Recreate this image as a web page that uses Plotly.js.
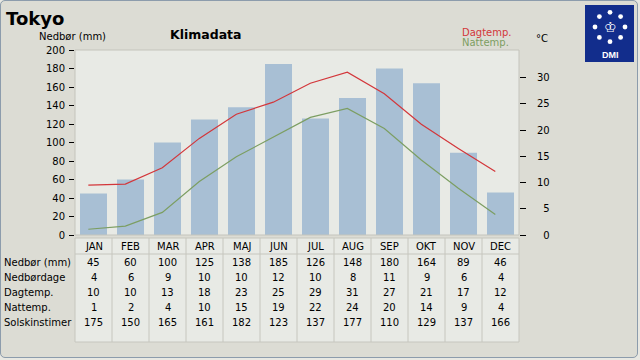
<!DOCTYPE html>
<html><head><meta charset="utf-8">
<script src="https://cdn.plot.ly/plotly-3.0.1.min.js"></script>
<style>
html,body{margin:0;padding:0;background:#e8e8e2;}
#wrap{position:relative;width:640px;height:360px;overflow:hidden;}
#chart{position:absolute;left:0;top:0;width:640px;height:360px;}
#frame{position:absolute;left:0;top:0;width:636px;height:356px;border:1px solid #8c9cac;border-radius:5px;box-shadow:0 0 0 6px #e8e8e2;pointer-events:none;}
</style></head>
<body><div id="wrap"><div id="chart"></div><div id="frame"></div></div>
<script>
const months = ['JAN','FEB','MAR','APR','MAJ','JUN','JUL','AUG','SEP','OKT','NOV','DEC'];
const precip = [45,60,100,125,138,185,126,148,180,164,89,46];
const rainDays = [4,6,9,10,10,12,10,8,11,9,6,4];
const dayTemp = [10,10,13,18,23,25,29,31,27,21,17,12];
const nightTemp = [1,2,4,10,15,19,22,24,20,14,9,4];
const sunHours = [175,150,165,161,182,123,137,177,110,129,137,166];
const dayTempLine = [9.5,9.7,12.8,18.4,23,25.3,28.9,31,26.9,21.1,16.5,12.1];
const nightTempLine = [1.1,1.7,4.3,10.2,14.9,18.7,22.4,24.1,20.3,14.3,8.9,3.9];
const rowLabels = ['Nedbør (mm)','Nedbørdage','Dagtemp.','Nattemp.','Solskinstimer'];
const leftTicks = [0,20,40,60,80,100,120,140,160,180,200];
const rightTicks = [0,5,10,15,20,25,30];

const W=640,H=360,L=75,R=519,T=50,B=235;
const FONT='DejaVu Sans, Verdana, sans-serif';
const px=x=>(x-L)/(R-L);
const py=y=>(B-y)/(B-T);
const FS='\u2007';

const traces=[
 {type:'bar',x:months,y:precip,marker:{color:'#a8bfd4'},width:0.73,xaxis:'x',yaxis:'y',hoverinfo:'skip'},
 {type:'scatter',mode:'lines',x:months,y:dayTempLine,line:{color:'#d3363a',width:1.2},xaxis:'x2',yaxis:'y2',hoverinfo:'skip'},
 {type:'scatter',mode:'lines',x:months,y:nightTempLine,line:{color:'#7c9e62',width:1.2},xaxis:'x2',yaxis:'y2',hoverinfo:'skip'}
];

const ann=[];
const shapes=[];
function txt(text,x,y,opt){ann.push(Object.assign({text:text,x:x,y:y,xref:'paper',yref:'paper',showarrow:false,xanchor:'left',yanchor:'middle',font:{family:FONT,size:10,color:'#000'}},opt||{}));}

txt('Tokyo',px(4),py(18),{font:{family:FONT,size:18,color:'#000',weight:'bold'}});
txt('Klimadata',px(205.5),py(35),{xanchor:'center',font:{family:FONT,size:12.5,color:'#000',weight:'bold'}});
txt('Nedbør (mm)',px(108),py(36),{xanchor:'right'});
txt('Dagtemp.',px(460),py(32),{font:{family:FONT,size:10,color:'#d3363a'}});
txt('Nattemp.',px(460),py(42),{font:{family:FONT,size:10,color:'#7c9e62'}});
txt('°C',px(534),py(38));

// table
const tTop=238,tHead=254,tBot=342;
shapes.push({type:'rect',xref:'paper',yref:'paper',x0:0,x1:1,y0:py(tTop),y1:py(tBot),fillcolor:'#e8eae5',line:{color:'#c6c6be',width:1}});
shapes.push({type:'line',xref:'paper',yref:'paper',x0:0,x1:1,y0:py(tHead),y1:py(tHead),line:{color:'#c6c6be',width:1}});
for(let i=1;i<months.length;i++){
 shapes.push({type:'line',xref:'paper',yref:'paper',x0:i/months.length,x1:i/months.length,y0:py(tTop),y1:py(tBot),line:{color:'#c6c6be',width:1}});
}
const rows=[precip,rainDays,dayTemp,nightTemp,sunHours];
months.forEach((m,i)=>{
 ann.push({text:m,x:m,xref:'x',y:py(246),yref:'paper',showarrow:false,xanchor:'center',yanchor:'middle',font:{family:FONT,size:10,color:'#000'}});
 rows.forEach((r,k)=>{
  ann.push({text:String(r[i]),x:m,xref:'x',y:py(262+15*k),yref:'paper',showarrow:false,xanchor:'center',yanchor:'middle',font:{family:FONT,size:10,color:'#000'}});
 });
});
rowLabels.forEach((lab,k)=>txt(lab,px(2),py(262+15*k)));

// plot border
shapes.push({type:'rect',xref:'paper',yref:'paper',x0:0,x1:1,y0:0,y1:1,line:{color:'#c4c4bc',width:1},layer:'above'});

// DMI logo
shapes.push({type:'rect',xref:'paper',yref:'paper',x0:px(585),x1:px(634),y0:py(62),y1:py(5),fillcolor:'#122d8c',line:{width:0}});
for(let a=0;a<8;a++){
 const ang=a*Math.PI/4;
 const cx=610+15*Math.sin(ang), cy=27-15*Math.cos(ang)*0.98;
 const r=2.4;
 shapes.push({type:'circle',xref:'paper',yref:'paper',x0:px(cx-r),x1:px(cx+r),y0:py(cy+r),y1:py(cy-r),fillcolor:'#ffffff',line:{width:0}});
}
txt('\u2654',px(610),py(27),{xanchor:'center',font:{family:FONT,size:14,color:'#ffffff'}});
txt('DMI',px(610.5),py(55),{xanchor:'center',font:{family:'Liberation Sans, Arial, sans-serif',size:9,color:'#ffffff',weight:'bold'}});

const layout={
 width:W,height:H,
 margin:{l:L,r:W-R,t:T,b:H-B,pad:0},
 paper_bgcolor:'#dcdcd4',plot_bgcolor:'#e8eae5',
 showlegend:false,
 bargap:0.27,
 xaxis:{type:'category',range:[-0.5,11.5],showticklabels:false,ticks:'',showgrid:false,zeroline:false,showline:false,fixedrange:true},
 xaxis2:{type:'category',overlaying:'x',range:[-0.36,11.64],visible:false,fixedrange:true},
 yaxis:{range:[0,200],tickvals:leftTicks,ticks:'outside',ticklen:5,tickcolor:'#000',tickwidth:1,showgrid:false,zeroline:false,showline:false,tickfont:{family:FONT,size:10,color:'#000'},ticklabelstandoff:2},
 yaxis2:{overlaying:'y',side:'right',anchor:'x2',range:[0,185/5.25],tickvals:rightTicks,ticktext:rightTicks.map(v=>v<10?FS+v:String(v)),ticks:'outside',ticklen:6,tickcolor:'#000',tickwidth:1,showgrid:false,zeroline:false,showline:false,tickfont:{family:FONT,size:10,color:'#000'},ticklabelstandoff:9},
 annotations:ann,shapes:shapes
};
Plotly.newPlot('chart',traces,layout,{staticPlot:true,displayModeBar:false});
</script></body></html>
